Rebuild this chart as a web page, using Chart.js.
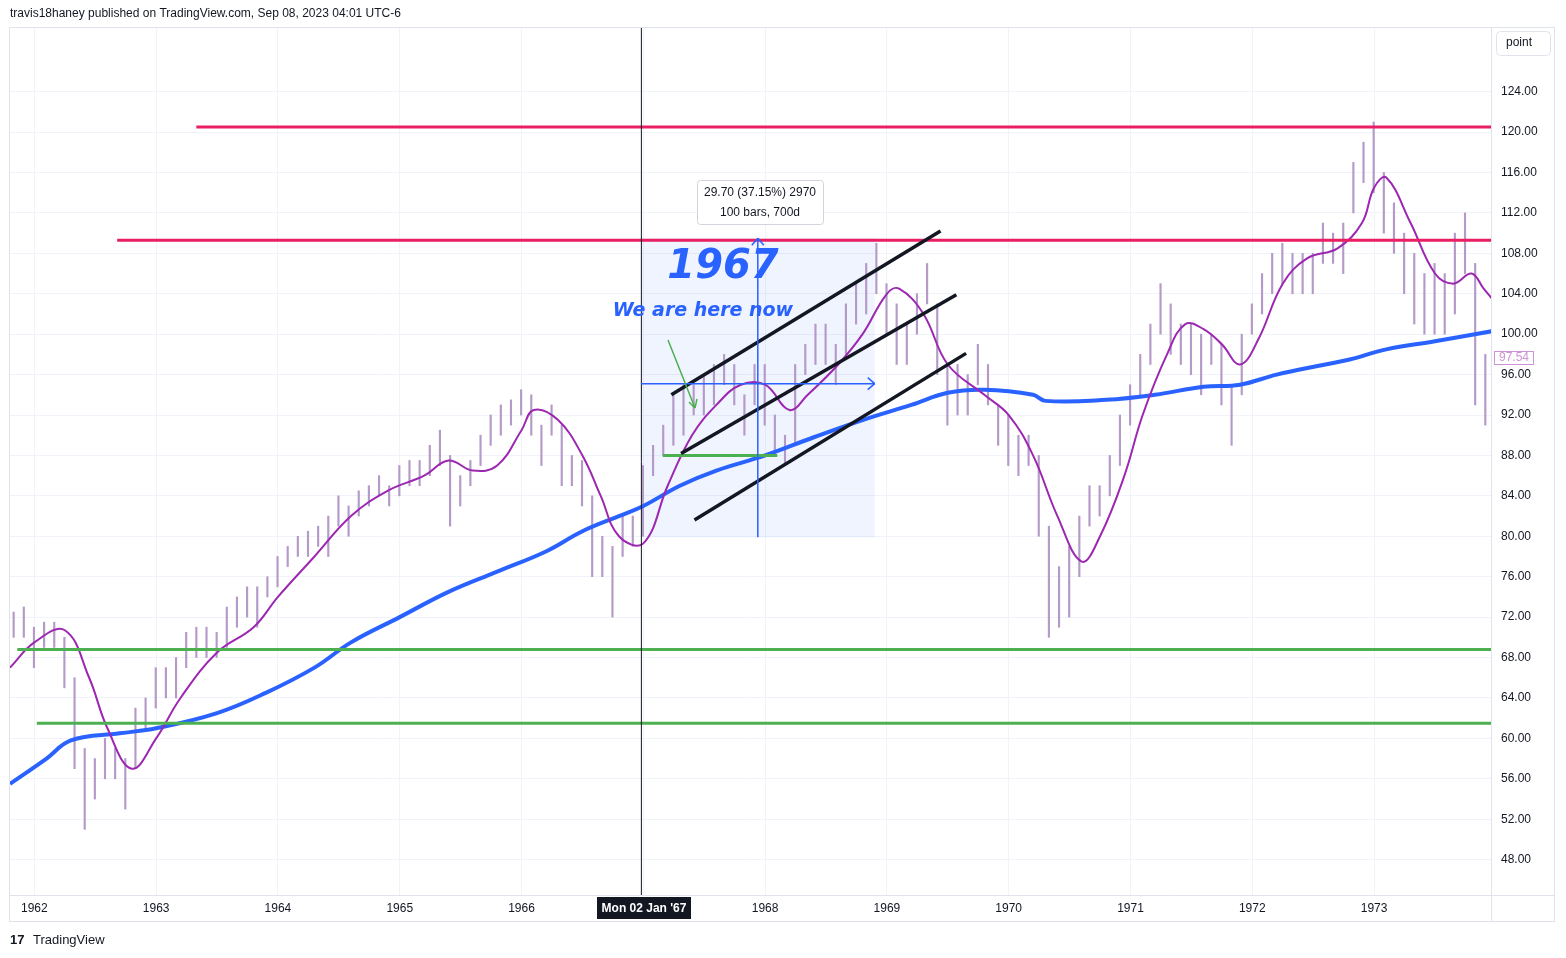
<!DOCTYPE html>
<html><head><meta charset="utf-8">
<script src="https://cdn.jsdelivr.net/npm/chart.js@4/dist/chart.umd.min.js"></script>
<style>
html,body{margin:0;padding:0;background:#fff;font-family:"Liberation Sans",Arial,sans-serif;}
#wrap{position:relative;width:1566px;height:958px;}
canvas{position:absolute;left:0;top:0;}
</style></head><body>
<div id="wrap"><canvas id="c" width="1566" height="958"></canvas></div>
<script>
// monthly bars from Nov 1961 to Dec 1973: [low, high]
const barStart = 1961.83;
const barRanges = [
[70,72.5],[70,73],
[67,71],[69,71.5],[69,71.5],[65,70],[57,66],[51,59],[54,58],[56,60],[56,59],[53,58],[57,63],[61,64],
[63,67],[64,67],[64,68],[67,70.5],[68,71],[68,71],[68,70.5],[69,73],[71,74],[72,75],[71,75],[74,76],
[75,78],[77,79],[78,80],[78,80.5],[79,81],[78,82],[81,84],[80,83],[82,84.5],[83,85],[84,86],[83,85],
[84,87],[85,87.5],[85,87.5],[86,89],[87,90.5],[81,88],[83,86],[85,87.5],[87,90],[89,92],[90,93],[91,93.5],
[92,94.5],[90,94],[87,91],[90,93],[85,91],[85,88],[83,87.5],[76,84],[76,80],[72,79],[78,82],[79,82],
[80,87],[86,89],[88,91],[89,94],[90,95],[92,95],[92,96],[93,97],[95,98],[93,97],[90,94],[93,97],
[91,97],[88,92],[87,90],[89,97],[96,99],[97,101],[97,101],[95,99],[98,103],[101,105],[102,107],[104,109],
[100,105],[97,103],[97,101],[100,104],[103,107],[96,103],[91,97],[92,97],[92,96],[95,99],[93,97],[89,93],
[87,92],[86,90],[87,90],[80,88],[70,81],[71,77],[72,79],[76,82],[81,85],[82,85],[84,88],[87,92],
[91,95],[94,98],[97,101],[100,105],[98,103],[97,101],[96,101],[94,100],[97,100],[93,99],[89,95],[94,100],
[100,103],[102,106],[104,108],[105,109],[104,108],[104,108],[104,108],[107,111],[107,110],[106,111],[112,117],[115,119],
[114,121],[110,116],[108,113],[104,110],[101,108],[100,106],[100,107],[100,106],[102,110],[106,112],[93,107],[91,98]
];
const maShortX = [1961.8,1962.0,1962.25,1962.45,1962.6,1962.8,1963.0,1963.2,1963.5,1963.8,1964.0,1964.3,1964.6,1964.9,1965.2,1965.4,1965.6,1965.8,1966.0,1966.1,1966.3,1966.5,1966.65,1966.8,1967.0,1967.2,1967.4,1967.6,1967.8,1968.0,1968.2,1968.35,1968.6,1968.8,1969.0,1969.1,1969.3,1969.5,1969.8,1970.0,1970.2,1970.4,1970.6,1970.75,1970.95,1971.1,1971.3,1971.45,1971.6,1971.75,1971.9,1972.05,1972.25,1972.45,1972.7,1972.9,1973.0,1973.1,1973.3,1973.5,1973.65,1973.8,1973.9,1973.97];
const maShortY = [67,69.5,70.7,66,61,57,60,64,68.5,71,74,78,82,84.5,86,87.5,86.5,87,90.5,92.5,91.5,88,84,80,79.3,85,90,93,95,95,92.5,94,97,100,104,104.5,102,97,94,92,88,82,77.5,80,86,92,98,101,100.5,99,97,99.5,105,107.5,108.5,111,114.5,115.5,111,106,105,106,104.5,103.5];
const maLongX = [1961.8,1962.1,1962.3,1962.7,1963.0,1963.5,1963.9,1964.3,1964.6,1965.0,1965.4,1965.8,1966.2,1966.5,1966.8,1967.0,1967.3,1967.6,1968.0,1968.4,1968.8,1969.2,1969.5,1969.8,1970.2,1970.3,1970.8,1971.2,1971.6,1971.9,1972.2,1972.6,1972.8,1973.1,1973.5,1973.97];
const maLongY = [55.5,58,59.8,60.5,61,62.5,64.5,67,69.5,72,74.5,76.5,78.5,80.5,82,83,85,86.5,88,89.8,91.5,93,94.2,94.5,94,93.4,93.5,94,94.8,95,96,97,97.5,98.5,99.3,100.3];
const yTickStep = 4;
const lastPrice = 97.54;

const barData = barRanges.map((r,i)=>({x: barStart + i/12, y: r}));
const toXY = (xs,ys)=>xs.map((x,i)=>({x, y: ys[i]}));

const overlay = {
  id:'overlay',
  beforeDatasetsDraw(chart){
    const {ctx, scales:{x,y}, chartArea:a} = chart;
    const X=v=>x.getPixelForValue(v), Y=v=>y.getPixelForValue(v);
    ctx.save();
    ctx.fillStyle='rgba(41,98,255,0.07)';
    ctx.fillRect(X(1966.98),Y(109.5),X(1968.9)-X(1966.98),Y(79.9)-Y(109.5));
    ctx.restore();
  },
  afterDatasetsDraw(chart){
    const {ctx, scales:{x,y}, chartArea:a} = chart;
    const X=v=>x.getPixelForValue(v), Y=v=>y.getPixelForValue(v);
    ctx.save();
    const line=(x1,y1,x2,y2,c,w)=>{ctx.strokeStyle=c;ctx.lineWidth=w;ctx.beginPath();ctx.moveTo(x1,y1);ctx.lineTo(x2,y2);ctx.stroke();};
    line(X(1963.33),Y(120.5),a.right,Y(120.5),'#e91e63',3);
    line(X(1962.68),Y(109.3),a.right,Y(109.3),'#e91e63',3);
    line(X(1961.86),Y(68.8),a.right,Y(68.8),'#4caf50',3);
    line(X(1962.02),Y(61.5),a.right,Y(61.5),'#4caf50',3);
    line(X(1967.16),Y(88.0),X(1968.1),Y(88.0),'#4caf50',3);
    line(X(1967.23),Y(94.0),X(1969.44),Y(110.2),'#131722',3.5);
    line(X(1967.31),Y(88.2),X(1969.57),Y(103.9),'#131722',3.5);
    line(X(1967.42),Y(81.6),X(1969.65),Y(98.1),'#131722',3.5);
    line(X(1966.98)+0.5,a.top,X(1966.98)+0.5,a.bottom,'#131722',1);
    const bl='#2962ff';
    const vx=X(1967.94), hy=Y(95.1);
    line(vx,Y(79.9),vx,Y(109.5),bl,1.5);
    line(vx-6,Y(109.5)+7,vx,Y(109.5),bl,1.5);line(vx+6,Y(109.5)+7,vx,Y(109.5),bl,1.5);
    line(X(1966.98),hy,X(1968.9),hy,bl,1.5);
    line(X(1968.9)-7,hy-6,X(1968.9),hy,bl,1.5);line(X(1968.9)-7,hy+6,X(1968.9),hy,bl,1.5);
    line(668,340,695,408,'#4caf50',1.5);
    line(689,402,695,408,'#4caf50',1.5);line(697,399,695,408,'#4caf50',1.5);
    ctx.fillStyle=bl;ctx.textAlign='center';ctx.textBaseline='middle';
    ctx.font='italic bold 40px "DejaVu Sans"';
    ctx.fillText('1967',723,268);
    ctx.font='italic bold 19px "DejaVu Sans"';
    ctx.fillText('We are here now',703,311);
    ctx.fillStyle='#fff';ctx.strokeStyle='#d1d4dc';ctx.lineWidth=1;
    ctx.beginPath();ctx.roundRect(697.5,180.5,126,44,3);ctx.fill();ctx.stroke();
    ctx.fillStyle='#131722';ctx.font='12px "Liberation Sans"';
    ctx.fillText('29.70 (37.15%) 2970',760,193);
    ctx.fillText('100 bars, 700d',760,213);
    ctx.fillStyle='#131722';
    ctx.fillRect(597,897,94,22);
    ctx.fillStyle='#fff';ctx.font='bold 12px "Liberation Sans"';
    ctx.fillText("Mon 02 Jan '67",644,909);
    ctx.fillStyle='#fff';ctx.strokeStyle='#ce93d8';
    ctx.fillRect(1494,351,40,14);ctx.strokeRect(1494.5,351.5,39,13);
    ctx.fillStyle='#ce93d8';ctx.font='12px "Liberation Sans"';ctx.textAlign='left';
    ctx.fillText(lastPrice.toFixed(2),1499,358);
    ctx.strokeStyle='#e0e3eb';ctx.lineWidth=1;
    ctx.strokeRect(9.5,27.5,1545,894);
    ctx.beginPath();ctx.moveTo(a.right+0.5,27.5);ctx.lineTo(a.right+0.5,921.5);ctx.moveTo(9.5,a.bottom+0.5);ctx.lineTo(1554.5,a.bottom+0.5);ctx.stroke();
    ctx.strokeStyle='#e0e3eb';ctx.fillStyle='#fff';
    ctx.beginPath();ctx.roundRect(1496.5,31.5,54,24,4);ctx.fill();ctx.stroke();
    ctx.fillStyle='#131722';ctx.textAlign='center';ctx.font='12px "Liberation Sans"';
    ctx.fillText('point',1519,43);
    ctx.textAlign='left';ctx.font='12px "Liberation Sans"';
    ctx.fillText('travis18haney published on TradingView.com, Sep 08, 2023 04:01 UTC-6',10,14);
    ctx.font='bold 13px "Liberation Sans"';ctx.fillText('17',10,940);
    ctx.font='13px "Liberation Sans"';ctx.fillText('TradingView',33,940);
    ctx.restore();
  }
};

new Chart(document.getElementById('c'),{
  data:{datasets:[
    {type:'bar',data:barData,backgroundColor:'#b49ac9',barThickness:1.5,order:3},
    {type:'line',data:toXY(maLongX,maLongY),borderColor:'#2962ff',borderWidth:4,pointRadius:0,tension:0.4,order:2},
    {type:'line',data:toXY(maShortX,maShortY),borderColor:'#9c27b0',borderWidth:2,pointRadius:0,tension:0.4,order:1}
  ]},
  options:{
    responsive:false,animation:false,
    layout:{padding:{left:10,top:28,right:0,bottom:37}},
    plugins:{legend:{display:false},tooltip:{enabled:false}},
    scales:{
      x:{type:'linear',min:1961.8,max:1973.96,offset:false,
        ticks:{stepSize:1,callback:v=>Number.isInteger(v)?String(v):'',color:'#131722',font:{size:12,family:'Liberation Sans'},maxRotation:0,padding:6},
        afterBuildTicks:s=>{s.ticks=[];for(let v=1962;v<=1973;v++)s.ticks.push({value:v});},
        grid:{color:'#f0f3fa',drawTicks:false,offset:false},border:{display:false},
        afterFit:s=>{s.height=26;}},
      y:{position:'right',min:44.5,max:130.3,
        ticks:{stepSize:yTickStep,callback:v=>(v%4===0)?v.toFixed(2):'',color:'#131722',font:{size:12,family:'Liberation Sans'},padding:10},
        afterBuildTicks:s=>{s.ticks=s.ticks.filter(t=>t.value>=48&&t.value<=124&&t.value%4===0);},
        grid:{color:'#f0f3fa',drawTicks:false},border:{display:false},
        afterFit:s=>{s.width=75;}}
    }
  },
  plugins:[overlay]
});
</script></body></html>
